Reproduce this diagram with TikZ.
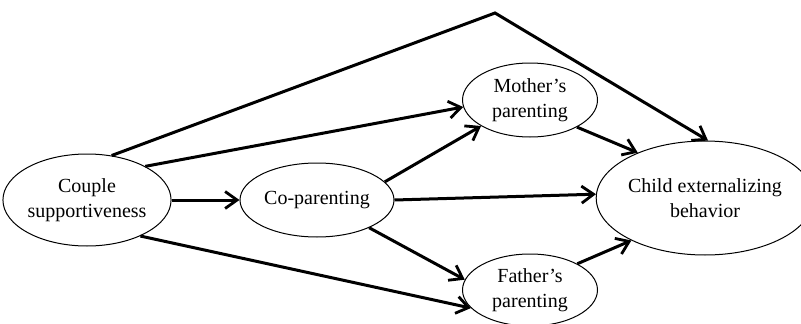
\documentclass[tikz,border=0pt]{standalone}
\usepackage{fontspec}
\setmainfont{Liberation Serif}
\usetikzlibrary{shapes.geometric, arrows.meta}

\begin{document}
\begin{tikzpicture}[x=1pt, y=-1pt]
	\tikzstyle{var} = [draw, ellipse, align=center, inner sep=0pt, line width=1pt, font=\fontsize{20}{25}\selectfont]
	\tikzstyle{path_arrow} = [line width=3pt, -{Straight Barb[length=12pt, width=17pt, line width=2.8pt]}]
	\useasboundingbox (0,0) rectangle (801,324);
	% Variable nodes
	\node[var, minimum width=152pt, minimum height=92pt] (couple) at (87,200) {Couple\\supportiveness};
	\node[var, minimum width=154pt, minimum height=74pt] (copar) at (317,200) {Co-parenting};
	\node[var, minimum width=135pt, minimum height=74pt] (mother) at (530,100) {Mother's\\parenting};
	\node[var, minimum width=135pt, minimum height=72pt] (father) at (530,290) {Father's\\parenting};
	\node[var, minimum width=190pt, minimum height=114pt] (child) at (705,198) {Child externalizing\\behavior};
	% Bend of the direct path
	\coordinate (apex) at (495,13);

	% Draw 
	% Paths from couple supportiveness
	\draw [path_arrow] (couple.30) -- (mother.186);
	\draw [path_arrow] (couple.east) -- (copar.west);
	\draw [path_arrow] (couple.-34) -- (father.197);
	\draw [path_arrow] (couple.61) -- (apex) -- (child.87);
	% Paths from co-parenting
	\draw [path_arrow] (copar.15) -- (mother.208);
	\draw [path_arrow] (copar.east) -- (child.178);
	\draw [path_arrow] (copar.-28) -- (father.171);
	% Paths from parenting
	\draw [path_arrow] (mother.-30) -- (child.146);
	\draw [path_arrow] (father.29) -- (child.-150);
\end{tikzpicture}
\end{document}
